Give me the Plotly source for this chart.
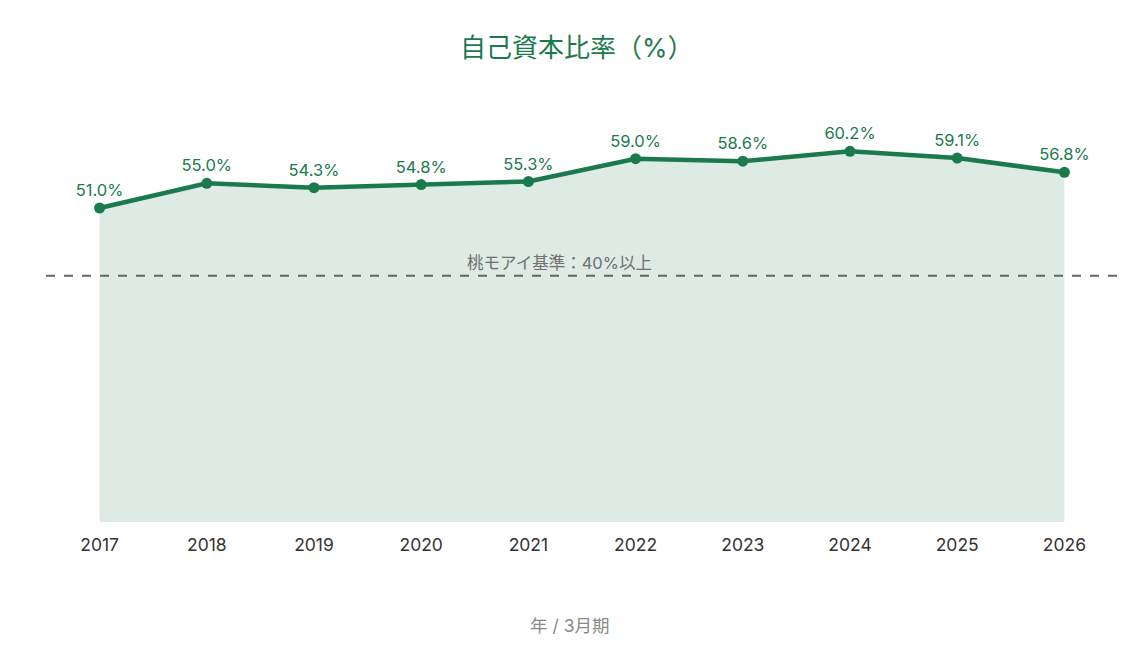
import plotly.graph_objects as go

years = ["2017", "2018", "2019", "2020", "2021", "2022", "2023", "2024", "2025", "2026"]
ratio = [51.0, 55.0, 54.3, 54.8, 55.3, 59.0, 58.6, 60.2, 59.1, 56.8]
labels = [f"{v:.1f}%" for v in ratio]
threshold = 40
threshold_label = "桃モアイ基準：40%以上"

GREEN = "#1b7a4c"
FONT = "Inter, Noto Sans CJK JP, sans-serif"

fig = go.Figure()
fig.add_trace(go.Scatter(
    x=years, y=ratio, mode="lines+markers+text",
    text=labels, textposition="top center",
    textfont=dict(color=GREEN, size=16.5, family=FONT),
    line=dict(color=GREEN, width=4.5),
    marker=dict(color=GREEN, size=11),
    fill="tozeroy", fillcolor="rgba(27,122,76,0.15)",
    cliponaxis=False, hoverinfo="skip", showlegend=False,
))

fig.add_shape(type="line", xref="paper", yref="y", x0=0, x1=1, y0=threshold, y1=threshold,
              line=dict(color="#666666", width=2, dash="dash"))
fig.add_annotation(x=0.479, xref="paper", y=threshold, yref="y", text=threshold_label,
                   showarrow=False, yanchor="bottom", yshift=1,
                   font=dict(color="#6f6f6f", size=16.5, family=FONT))

# x-axis title placed as annotation (centred on page)
fig.add_annotation(x=0.4888, xref="paper", y=-0.239, yref="paper", text="年 / 3月期",
                   showarrow=False, xanchor="center", yanchor="middle",
                   font=dict(color="#8a8a8a", size=17.5, family=FONT))

fig.update_layout(
    width=1140, height=645,
    margin=dict(l=46, r=22, t=91, b=123),
    paper_bgcolor="white", plot_bgcolor="white",
    font=dict(family=FONT),
    title=dict(text="自己資本比率（%）", x=0.506, xanchor="center", y=0.925, yanchor="middle",
               font=dict(color=GREEN, size=26, family=FONT)),
    xaxis=dict(type="category", range=[-0.5, 9.5], showgrid=False, zeroline=False,
               showline=False, ticks="", ticklabelstandoff=10,
               tickfont=dict(color="#333333", size=17.5, family=FONT)),
    yaxis=dict(range=[0, 70], visible=False, showgrid=False, zeroline=False),
)

fig.write_html("out.html")
